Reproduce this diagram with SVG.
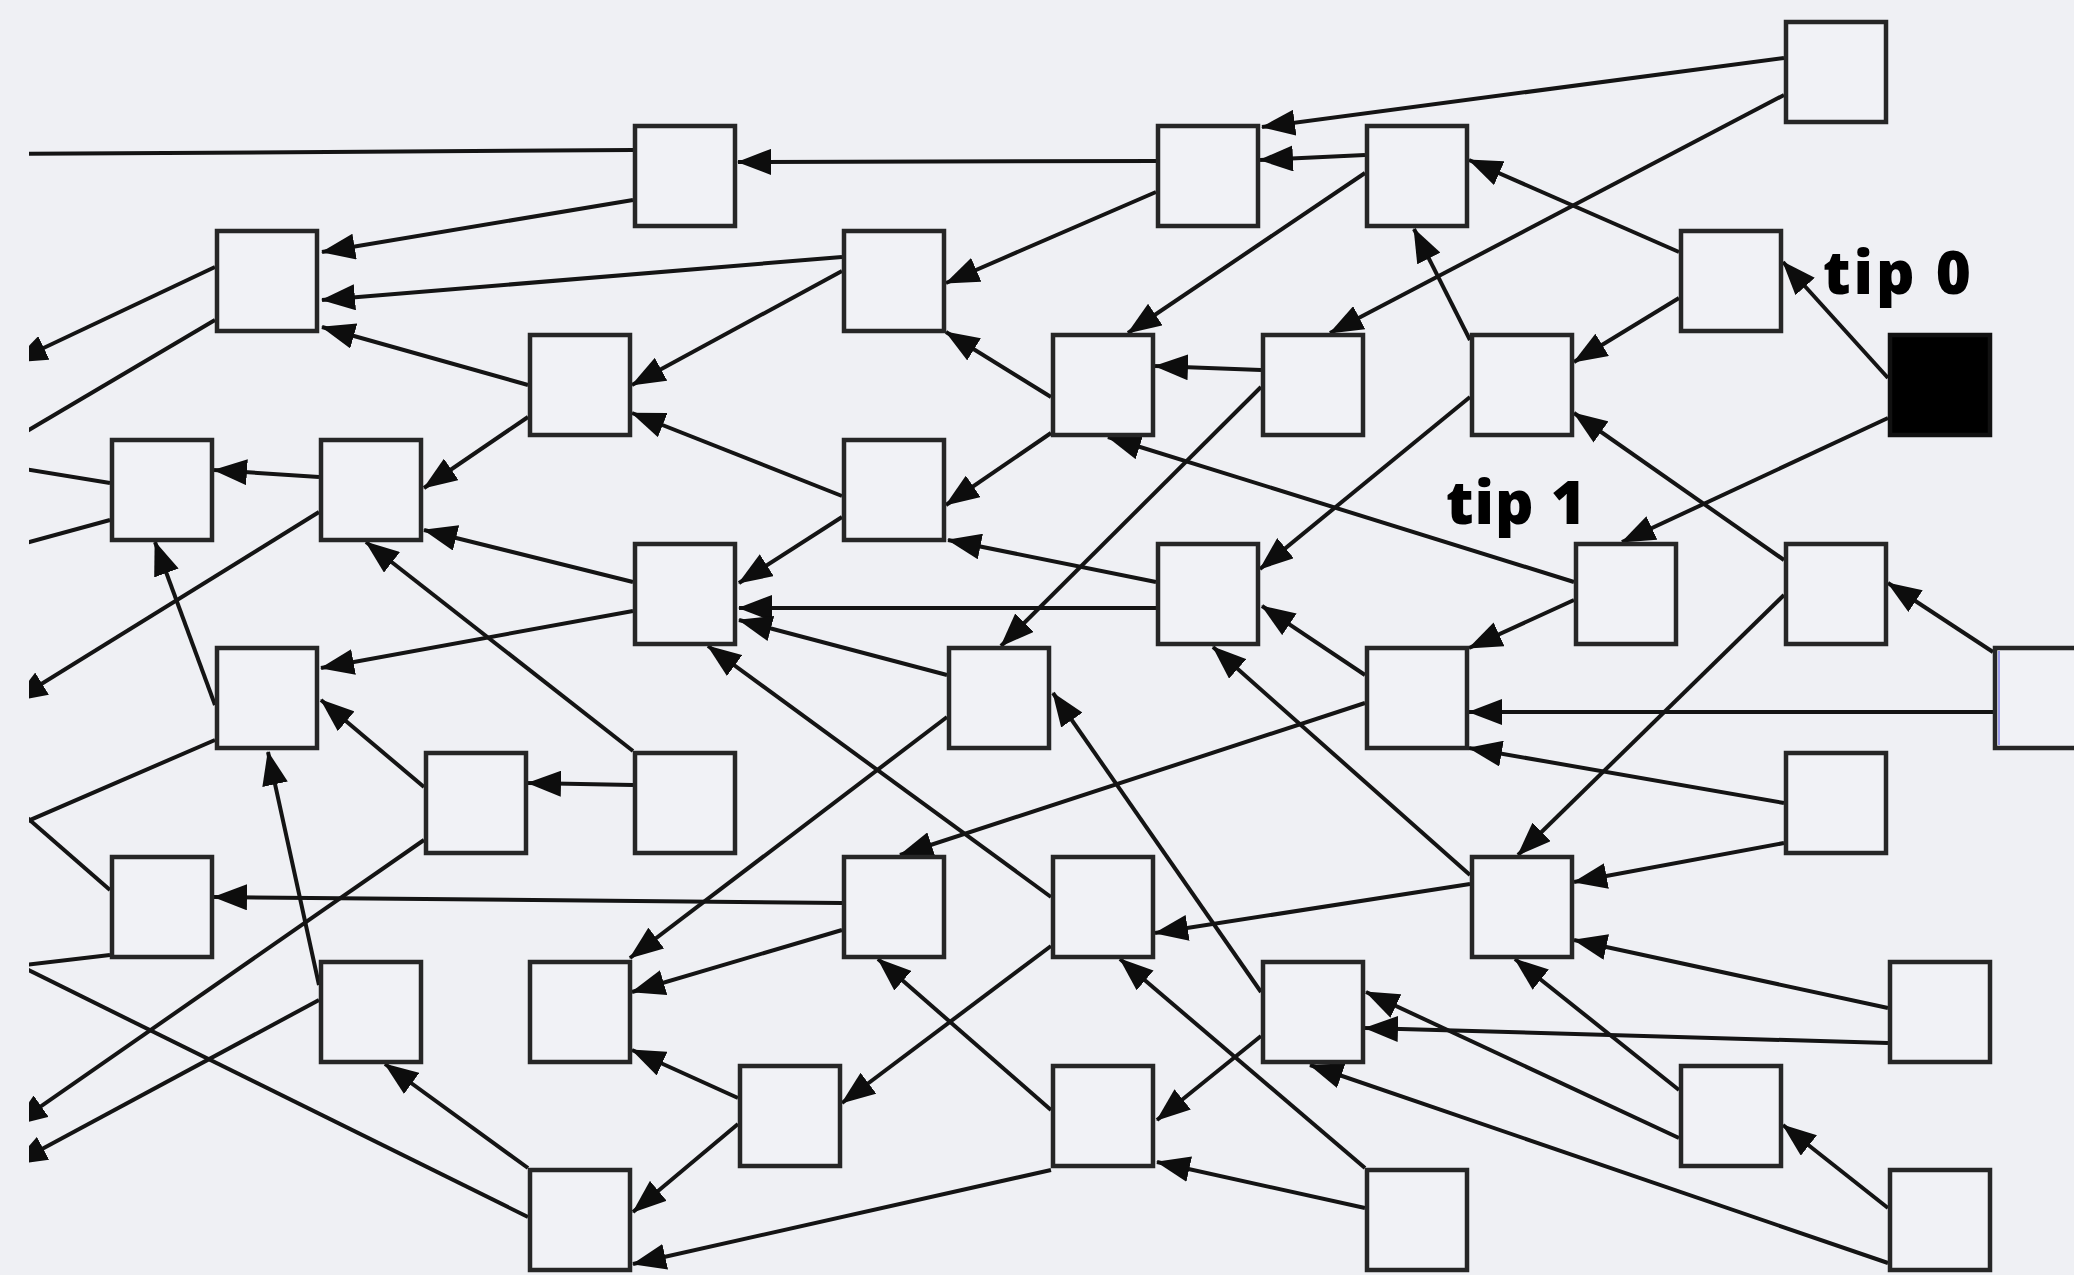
<svg xmlns="http://www.w3.org/2000/svg" width="2074" height="1275" viewBox="0 0 2074 1275">
  <defs>
    <style>
      .node rect { fill: #f1f2f6; stroke: #262626; stroke-width: 4.5; }
      .node rect.tipfill { fill: #000; stroke: #111; }
      .edges line { stroke: #141414; stroke-width: 4; fill: none; }
      .edges line.a { marker-end: url(#ah); }
      .label { font-family: "Open Sans", "Lato", sans-serif; font-weight: 800; font-size: 60px; fill: #000; }
    </style>
    <marker id="ah" markerUnits="userSpaceOnUse" viewBox="0 0 34 26" refX="33" refY="13" markerWidth="34" markerHeight="26" orient="auto">
      <path d="M0,0 L34,13 L0,26 z" fill="#0d0d0d"/>
    </marker>
    <clipPath id="clipL">
      <rect x="29" y="0" width="2045" height="1275"/>
    </clipPath>
  </defs>

  <rect x="0" y="0" width="2074" height="1275" fill="#eff0f4"/>

  <!-- connectors: each line runs from the approving square to the approved one -->
  <g id="edges" class="edges" clip-path="url(#clipL)">
    <line x1="633" y1="150" x2="0" y2="154"/>
    <line class="a" x1="633" y1="200" x2="322" y2="252"/>
    <line class="a" x1="842" y1="257" x2="322" y2="300"/>
    <line class="a" x1="528" y1="385" x2="322" y2="327"/>
    <line class="a" x1="215" y1="267" x2="14" y2="362"/>
    <line x1="215" y1="320" x2="0" y2="447"/>
    <line class="a" x1="1784" y1="58" x2="1262" y2="127"/>
    <line class="a" x1="1784" y1="95" x2="1330" y2="333"/>
    <line class="a" x1="1156" y1="161" x2="738" y2="162"/>
    <line class="a" x1="1156" y1="192" x2="946" y2="283"/>
    <line class="a" x1="1365" y1="155" x2="1260" y2="160"/>
    <line class="a" x1="1365" y1="173" x2="1128" y2="333"/>
    <line class="a" x1="1679" y1="252" x2="1469" y2="160"/>
    <line class="a" x1="1470" y1="340" x2="1414" y2="229"/>
    <line class="a" x1="1679" y1="298" x2="1574" y2="362"/>
    <line class="a" x1="1888" y1="378" x2="1783" y2="262"/>
    <line class="a" x1="1888" y1="418" x2="1622" y2="542"/>
    <line class="a" x1="1261" y1="370" x2="1155" y2="366"/>
    <line class="a" x1="1574" y1="582" x2="1108" y2="437"/>
    <line class="a" x1="1051" y1="397" x2="946" y2="332"/>
    <line class="a" x1="1051" y1="433" x2="946" y2="505"/>
    <line class="a" x1="1261" y1="387" x2="1001" y2="646"/>
    <line class="a" x1="1784" y1="560" x2="1574" y2="413"/>
    <line class="a" x1="1470" y1="397" x2="1260" y2="569"/>
    <line class="a" x1="528" y1="417" x2="424" y2="488"/>
    <line class="a" x1="842" y1="271" x2="632" y2="385"/>
    <line class="a" x1="842" y1="496" x2="632" y2="413"/>
    <line class="a" x1="319" y1="477" x2="214" y2="470"/>
    <line class="a" x1="215" y1="705" x2="155" y2="542"/>
    <line x1="110" y1="483" x2="0" y2="465"/>
    <line x1="110" y1="520" x2="0" y2="550"/>
    <line class="a" x1="633" y1="582" x2="424" y2="530"/>
    <line class="a" x1="633" y1="751" x2="366" y2="542"/>
    <line class="a" x1="319" y1="512" x2="14" y2="701"/>
    <line class="a" x1="1156" y1="582" x2="948" y2="540"/>
    <line class="a" x1="842" y1="517" x2="739" y2="583"/>
    <line class="a" x1="1156" y1="608" x2="739" y2="608"/>
    <line class="a" x1="947" y1="675" x2="739" y2="620"/>
    <line class="a" x1="633" y1="611" x2="321" y2="668"/>
    <line class="a" x1="424" y1="787" x2="321" y2="700"/>
    <line class="a" x1="319" y1="985" x2="268" y2="752"/>
    <line x1="215" y1="740" x2="0" y2="833"/>
    <line class="a" x1="1261" y1="992" x2="1053" y2="693"/>
    <line class="a" x1="947" y1="717" x2="630" y2="958"/>
    <line class="a" x1="1365" y1="675" x2="1262" y2="606"/>
    <line class="a" x1="1470" y1="875" x2="1213" y2="647"/>
    <line class="a" x1="1574" y1="600" x2="1469" y2="648"/>
    <line class="a" x1="1993" y1="652" x2="1888" y2="583"/>
    <line class="a" x1="1784" y1="595" x2="1518" y2="855"/>
    <line class="a" x1="1993" y1="712" x2="1469" y2="712"/>
    <line class="a" x1="1784" y1="803" x2="1469" y2="748"/>
    <line class="a" x1="1365" y1="703" x2="900" y2="855"/>
    <line class="a" x1="633" y1="785" x2="528" y2="783"/>
    <line class="a" x1="424" y1="840" x2="14" y2="1125"/>
    <line class="a" x1="1784" y1="843" x2="1574" y2="882"/>
    <line class="a" x1="842" y1="903" x2="214" y2="897"/>
    <line x1="110" y1="890" x2="0" y2="794"/>
    <line x1="110" y1="955" x2="0" y2="968"/>
    <line class="a" x1="842" y1="930" x2="632" y2="992"/>
    <line class="a" x1="1470" y1="884" x2="1155" y2="933"/>
    <line class="a" x1="1051" y1="897" x2="708" y2="646"/>
    <line class="a" x1="1051" y1="946" x2="842" y2="1103"/>
    <line class="a" x1="1888" y1="1008" x2="1574" y2="940"/>
    <line class="a" x1="1679" y1="1090" x2="1515" y2="959"/>
    <line class="a" x1="528" y1="1168" x2="385" y2="1064"/>
    <line class="a" x1="319" y1="1000" x2="14" y2="1164"/>
    <line class="a" x1="738" y1="1098" x2="632" y2="1050"/>
    <line class="a" x1="1888" y1="1043" x2="1365" y2="1028"/>
    <line class="a" x1="1679" y1="1138" x2="1366" y2="992"/>
    <line class="a" x1="1888" y1="1263" x2="1310" y2="1065"/>
    <line class="a" x1="1261" y1="1036" x2="1157" y2="1120"/>
    <line class="a" x1="738" y1="1124" x2="633" y2="1212"/>
    <line class="a" x1="1365" y1="1208" x2="1157" y2="1162"/>
    <line class="a" x1="1051" y1="1110" x2="878" y2="959"/>
    <line class="a" x1="1051" y1="1170" x2="633" y2="1264"/>
    <line class="a" x1="1888" y1="1208" x2="1783" y2="1125"/>
    <line class="a" x1="1365" y1="1168" x2="1120" y2="959"/>
    <line x1="528" y1="1217" x2="0" y2="956"/>
  </g>

  <!-- squares, named by grid column and row -->
  <g id="n-c16-r0" class="node"><rect x="1786" y="22" width="100" height="100"/></g>
  <g id="n-c5-r1" class="node"><rect x="635" y="126" width="100" height="100"/></g>
  <g id="n-c10-r1" class="node"><rect x="1158" y="126" width="100" height="100"/></g>
  <g id="n-c12-r1" class="node"><rect x="1367" y="126" width="100" height="100"/></g>
  <g id="n-c1-r2" class="node"><rect x="217" y="231" width="100" height="100"/></g>
  <g id="n-c7-r2" class="node"><rect x="844" y="231" width="100" height="100"/></g>
  <g id="n-c15-r2" class="node"><rect x="1681" y="231" width="100" height="100"/></g>
  <g id="n-c4-r3" class="node"><rect x="530" y="335" width="100" height="100"/></g>
  <g id="n-c9-r3" class="node"><rect x="1053" y="335" width="100" height="100"/></g>
  <g id="n-c11-r3" class="node"><rect x="1263" y="335" width="100" height="100"/></g>
  <g id="n-c13-r3" class="node"><rect x="1472" y="335" width="100" height="100"/></g>
  <g id="n-c17-r3" class="node"><rect class="tipfill" x="1890" y="335" width="100" height="100"/></g>
  <g id="n-c0-r4" class="node"><rect x="112" y="440" width="100" height="100"/></g>
  <g id="n-c2-r4" class="node"><rect x="321" y="440" width="100" height="100"/></g>
  <g id="n-c7-r4" class="node"><rect x="844" y="440" width="100" height="100"/></g>
  <g id="n-c5-r5" class="node"><rect x="635" y="544" width="100" height="100"/></g>
  <g id="n-c10-r5" class="node"><rect x="1158" y="544" width="100" height="100"/></g>
  <g id="n-c14-r5" class="node"><rect x="1576" y="544" width="100" height="100"/></g>
  <g id="n-c16-r5" class="node"><rect x="1786" y="544" width="100" height="100"/></g>
  <g id="n-c1-r6" class="node"><rect x="217" y="648" width="100" height="100"/></g>
  <g id="n-c8-r6" class="node"><rect x="949" y="648" width="100" height="100"/></g>
  <g id="n-c12-r6" class="node"><rect x="1367" y="648" width="100" height="100"/></g>
  <g id="n-c18-r6" class="node"><rect x="1995" y="648" width="100" height="100"/><line x1="1999" y1="651" x2="1999" y2="745" stroke="#9b9bea" stroke-width="2"/></g>
  <g id="n-c3-r7" class="node"><rect x="426" y="753" width="100" height="100"/></g>
  <g id="n-c5-r7" class="node"><rect x="635" y="753" width="100" height="100"/></g>
  <g id="n-c16-r7" class="node"><rect x="1786" y="753" width="100" height="100"/></g>
  <g id="n-c0-r8" class="node"><rect x="112" y="857" width="100" height="100"/></g>
  <g id="n-c7-r8" class="node"><rect x="844" y="857" width="100" height="100"/></g>
  <g id="n-c9-r8" class="node"><rect x="1053" y="857" width="100" height="100"/></g>
  <g id="n-c13-r8" class="node"><rect x="1472" y="857" width="100" height="100"/></g>
  <g id="n-c2-r9" class="node"><rect x="321" y="962" width="100" height="100"/></g>
  <g id="n-c4-r9" class="node"><rect x="530" y="962" width="100" height="100"/></g>
  <g id="n-c11-r9" class="node"><rect x="1263" y="962" width="100" height="100"/></g>
  <g id="n-c17-r9" class="node"><rect x="1890" y="962" width="100" height="100"/></g>
  <g id="n-c6-r10" class="node"><rect x="740" y="1066" width="100" height="100"/></g>
  <g id="n-c9-r10" class="node"><rect x="1053" y="1066" width="100" height="100"/></g>
  <g id="n-c15-r10" class="node"><rect x="1681" y="1066" width="100" height="100"/></g>
  <g id="n-c4-r11" class="node"><rect x="530" y="1170" width="100" height="100"/></g>
  <g id="n-c12-r11" class="node"><rect x="1367" y="1170" width="100" height="100"/></g>
  <g id="n-c17-r11" class="node"><rect x="1890" y="1170" width="100" height="100"/></g>

  <!-- labels -->
  <text class="label" x="1823" y="294" textLength="148" lengthAdjust="spacing">tip 0</text>
  <text class="label" x="1446" y="524" textLength="140" lengthAdjust="spacing">tip 1</text>
</svg>
